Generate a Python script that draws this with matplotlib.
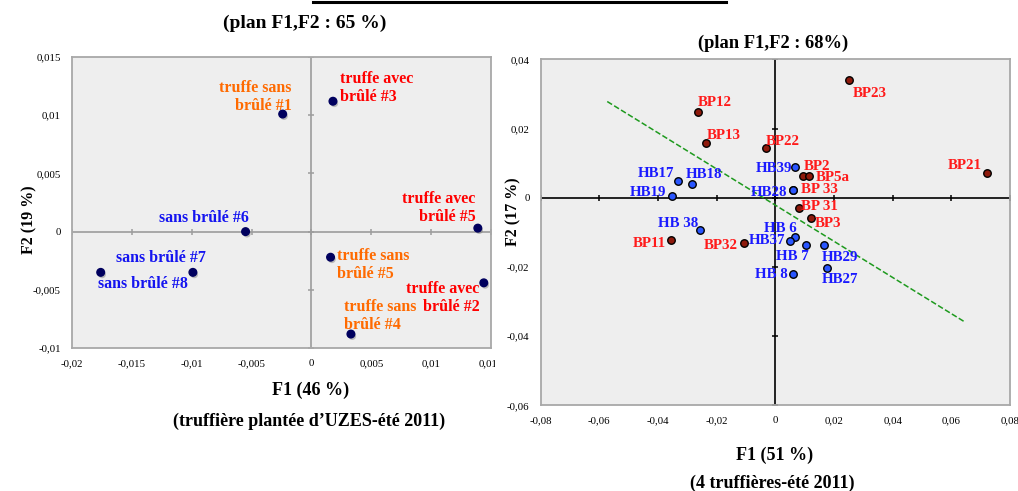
import matplotlib.pyplot as plt
import matplotlib.patheffects as pe
from matplotlib.lines import Line2D
from matplotlib.ticker import FuncFormatter
from matplotlib.transforms import Bbox, TransformedBbox

# ACP F1/F2 - truffiere plantee d'Uzes (ete 2011)
uzes_labels = ["truffe sans\nbrûlé #1", "truffe avec\nbrûlé #3", "truffe avec\nbrûlé #5",
               "sans brûlé #6", "sans brûlé #7", "sans brûlé #8",
               "truffe sans\nbrûlé #5", "truffe avec\nbrûlé #2", "truffe sans\nbrûlé #4"]
uzes_f1 = [-0.0024, 0.0018, 0.0139, -0.0055, -0.0099, -0.0176, 0.0016, 0.0144, 0.0033]
uzes_f2 = [0.0101, 0.0112, 0.0003, 0.0000, -0.0035, -0.0035, -0.0022, -0.0044, -0.0088]
uzes_group = ["sans", "avec", "avec", "hors", "hors", "hors", "sans", "avec", "sans"]
uzes_xticks = [-0.02, -0.015, -0.01, -0.005, 0, 0.005, 0.01, 0.015]
uzes_yticks = [-0.01, -0.005, 0, 0.005, 0.01, 0.015]

# ACP F1/F2 - 4 truffieres (ete 2011)
trf_labels = ["BP23", "BP12", "BP13", "BP22", "BP2", "BP5a", "BP21", "BP 33", "BP 31", "BP3",
              "BP11", "BP32", "HB39", "HB17", "HB18", "HB19", "HB28", "HB 38", "HB 6", "HB37",
              "HB 7", "HB29", "HB 8", "HB27"]
trf_f1 = [0.0251, -0.0265, -0.0237, -0.0033, 0.0094, 0.0115, 0.0721, 0.0061, 0.0082, 0.0122,
          -0.0356, -0.0106, 0.0067, -0.0332, -0.0285, -0.0353, 0.0061, -0.0258, 0.0067, 0.0050,
          0.0104, 0.0167, 0.0061, 0.0175]
trf_f2 = [0.0339, 0.0249, 0.0158, 0.0143, 0.0062, 0.0062, 0.0071, 0.0022, -0.0030, -0.0059,
          -0.0121, -0.0130, 0.0090, 0.0047, 0.0041, 0.0004, 0.0022, -0.0094, -0.0113, -0.0126,
          -0.0136, -0.0136, -0.0220, -0.0204]
sep_f1 = [-0.0573, 0.0644]
sep_f2 = [0.0278, -0.0358]
trf_xticks = [-0.08, -0.06, -0.04, -0.02, 0, 0.02, 0.04, 0.06, 0.08]
trf_yticks = [-0.06, -0.04, -0.02, 0, 0.02, 0.04]

# label placement: (dx px, dy px, ha)
uzes_offsets = [(9, 4, "right"), (7, 0, "left"), (-2, 7, "right"),
                (3, 10, "right"), (13, 10, "right"), (-3, -16, "left"),
                (6, -21, "left"), (-4, -28, "right"), (-7, 5, "left")]
trf_offsets = {"BP23": (4, -17, "left"), "BP12": (0, 6, "left"), "BP13": (1, 4, "left"),
               "BP22": (0, 3, "left"), "BP2": (1, 6, "left"), "BP5a": (7, -5, "left"),
               "BP21": (-5, 4, "right"), "BP 33": (8, -3, "left"), "BP 31": (2, -2, "left"),
               "BP3": (4, -9, "left"), "BP11": (-5, -7, "right"), "BP32": (-6, -6, "right"),
               "HB39": (-3, -5, "right"), "HB17": (-4, 4, "right"), "HB18": (-6, 6, "left"),
               "HB19": (-6, 0, "right"), "HB28": (-6, -6, "right"), "HB 38": (-1, 3, "right"),
               "HB 6": (2, 5, "right"), "HB37": (-5, -3, "right"), "HB 7": (2.5, -15, "right"),
               "HB29": (-3, -16, "left"), "HB 8": (-5, -4, "right"), "HB27": (-5, -15, "left")}

group_colors = {"sans": "#ff6a00", "avec": "#ff0000", "hors": "#1414f0"}
SERIF = "Liberation Serif"
BG = "#eeeeee"
FRAME = "#a8a8a8"


def comma(v, pos):
    return ("%g" % v).replace(".", ",")


def style_axes(ax, xticks, yticks, zero_color):
    ax.set_facecolor(BG)
    for s in ax.spines.values():
        s.set_color(FRAME)
        s.set_linewidth(1.3)
    ax.set_xticks(xticks)
    ax.set_yticks(yticks)
    ax.xaxis.set_major_formatter(FuncFormatter(comma))
    ax.yaxis.set_major_formatter(FuncFormatter(comma))
    ax.tick_params(length=0, labelsize=7.8, pad=8)
    for lab in ax.get_xticklabels() + ax.get_yticklabels():
        lab.set_family(SERIF)
    # axes through the origin with small cross ticks
    ax.axhline(0, color=zero_color, lw=1.2, zorder=1)
    ax.axvline(0, color=zero_color, lw=1.2, zorder=1)
    ax.plot(xticks, [0] * len(xticks), ls="none", marker="|", ms=5, mew=1.1,
            color=zero_color, zorder=1)
    ax.plot([0] * len(yticks), yticks, ls="none", marker="_", ms=5, mew=1.1,
            color=zero_color, zorder=1)
    ax.set_xlim(xticks[0], xticks[-1])
    ax.set_ylim(yticks[0], yticks[-1])


fig = plt.figure(figsize=(10.18, 4.91), dpi=100)
fig.patch.set_facecolor("white")

# left panel
ax1 = fig.add_axes([0.0707, 0.2912, 0.4116, 0.5927])
style_axes(ax1, uzes_xticks, uzes_yticks, "#9c9c9c")
ax1.scatter(uzes_f1, uzes_f2, s=30, color="#00005e", zorder=3,
            path_effects=[pe.SimplePatchShadow(offset=(1, -1.5), shadow_rgbFace="#777777", alpha=0.45),
                          pe.Normal()])
for lab, x, y, grp, (dx, dy, ha) in zip(uzes_labels, uzes_f1, uzes_f2, uzes_group, uzes_offsets):
    ax1.annotate(lab, (x, y), xytext=(dx, dy), textcoords="offset pixels", ha=ha, va="baseline",
                 multialignment=ha, color=group_colors[grp], fontsize=11.5, fontweight="bold",
                 family=SERIF, linespacing=1.15, zorder=4)
ax1.set_ylabel("F2 (19 %)", family=SERIF, fontweight="bold", fontsize=11.5)
ax1.yaxis.set_label_coords(-0.083, 0.44)
clip = TransformedBbox(Bbox([[0, 0], [495 / 1018, 1]]), fig.transFigure)
for lab in ax1.get_xticklabels():
    lab.set_clip_on(True)
    lab.set_clip_box(clip)

# right panel
ax2 = fig.add_axes([0.5311, 0.1745, 0.4610, 0.7047])
style_axes(ax2, trf_xticks, trf_yticks, "black")
ax2.plot(sep_f1, sep_f2, ls="--", color="#1e9a1e", lw=1.1, zorder=2)
for lab, x, y in zip(trf_labels, trf_f1, trf_f2):
    bp = lab.startswith("BP")
    ax2.plot(x, y, marker="o", ms=5.4, mew=1.0, mec="black",
             mfc="#8e1a0c" if bp else "#2a56ff", zorder=3 if bp else 4)
    dx, dy, ha = trf_offsets[lab]
    ax2.annotate(lab, (x, y), xytext=(dx, dy), textcoords="offset pixels", ha=ha, va="baseline",
                 color="#ff1a1a" if bp else "#1a1aff", fontsize=10.8, fontweight="bold",
                 family=SERIF, zorder=5)
ax2.set_ylabel("F2 (17 %)", family=SERIF, fontweight="bold", fontsize=11.5)
ax2.yaxis.set_label_coords(-0.041, 0.56)

# titles and captions
bold = dict(family=SERIF, fontweight="bold", ha="center", va="center")
fig.text(0.2996, 0.953, "(plan F1,F2 : 65 %)", fontsize=14, **bold)
fig.text(0.7598, 0.912, "(plan F1,F2 : 68%)", fontsize=13.3, **bold)
fig.text(0.3055, 0.2057, "F1 (46 %)", fontsize=13, **bold)
fig.text(0.3035, 0.1426, "(truffière plantée d’UZES-été 2011)", fontsize=13, **bold)
fig.text(0.7613, 0.0733, "F1 (51 %)", fontsize=13, **bold)
fig.text(0.7584, 0.0163, "(4 truffières-été 2011)", fontsize=13, **bold)
fig.add_artist(Line2D([313 / 1018, 726 / 1018], [1 - 1.5 / 491] * 2, color="black", lw=2.2))

fig.savefig("out.png", dpi=100)
